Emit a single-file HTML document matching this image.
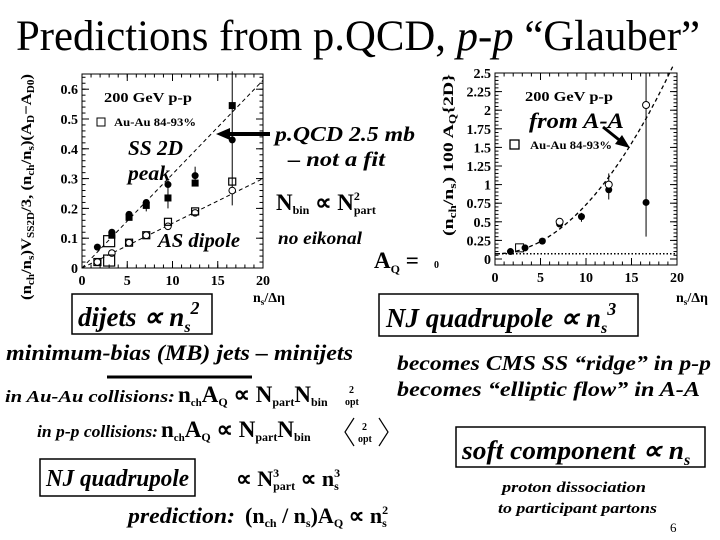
<!DOCTYPE html>
<html><head><meta charset="utf-8"><style>
html,body{margin:0;padding:0;background:#fff}
svg{display:block;font-family:"Liberation Serif",serif}
.bi{font-weight:bold;font-style:italic}
.b{font-weight:bold}
.tk{font-weight:bold;font-size:14px}
</style></head><body>
<svg id="s" width="720" height="540" viewBox="0 0 720 540">
<text x="16" y="50" font-size="43" textLength="684" lengthAdjust="spacingAndGlyphs">Predictions from p.QCD, <tspan font-style="italic">p-p</tspan> “Glauber”</text>

<g id="left"></g>
<g id="right"></g>

<!-- left chart labels -->
<text transform="translate(31,300) rotate(-90)" class="b" font-size="15" textLength="226" lengthAdjust="spacingAndGlyphs">(n<tspan font-size="10" dy="3">ch</tspan><tspan dy="-3">/n</tspan><tspan font-size="10" dy="3">s</tspan><tspan dy="-3">)V</tspan><tspan font-size="10" dy="3">SS2D</tspan><tspan dy="-3">/3, (n</tspan><tspan font-size="10" dy="3">ch</tspan><tspan dy="-3">/n</tspan><tspan font-size="10" dy="3">s</tspan><tspan dy="-3">)(A</tspan><tspan font-size="10" dy="3">D</tspan><tspan dy="-3">−A</tspan><tspan font-size="10" dy="3">D0</tspan><tspan dy="-3">)</tspan></text>
<text x="253" y="302" class="b" font-size="14">n<tspan font-size="9" dy="3">s</tspan><tspan dy="-3">/Δη</tspan></text>
<text x="104" y="102" class="b" font-size="14" textLength="88" lengthAdjust="spacingAndGlyphs">200 GeV p-p</text>
<rect x="97" y="118" width="8" height="8" fill="none" stroke="#000"/>
<text x="114" y="126" class="b" font-size="12" textLength="82" lengthAdjust="spacingAndGlyphs">Au-Au 84-93%</text>
<text x="128" y="155" class="bi" font-size="21" textLength="55" lengthAdjust="spacingAndGlyphs">SS 2D</text>
<text x="128" y="180" class="bi" font-size="21" textLength="42" lengthAdjust="spacingAndGlyphs">peak</text>
<text x="158" y="247" class="bi" font-size="20" textLength="82" lengthAdjust="spacingAndGlyphs">AS dipole</text>
<line x1="270" y1="134" x2="225" y2="134" stroke="#000" stroke-width="4"/>
<polygon points="216,134 230,128 230,140" fill="#000"/>
<text x="275" y="141" class="bi" font-size="21" textLength="140" lengthAdjust="spacingAndGlyphs">p.QCD 2.5 mb</text>
<text x="288" y="166" class="bi" font-size="21" textLength="97" lengthAdjust="spacingAndGlyphs">– not a fit</text>
<text x="276" y="210" class="b" font-size="23">N<tspan font-size="12" dy="4">bin</tspan><tspan dy="-4"> ∝ N</tspan><tspan font-size="12" dy="-10">2</tspan><tspan font-size="12" dx="-6" dy="14">part</tspan></text>
<text x="278" y="244" class="bi" font-size="18" textLength="84" lengthAdjust="spacingAndGlyphs">no eikonal</text>
<text x="374" y="268" class="b" font-size="23">A<tspan font-size="12" dy="5">Q</tspan><tspan dy="-5"> =</tspan></text>
<text x="434" y="268" class="b" font-size="10">0</text>

<!-- right chart labels -->
<text transform="translate(453,236) rotate(-90)" class="b" font-size="15" textLength="162" lengthAdjust="spacingAndGlyphs">(n<tspan font-size="10" dy="3">ch</tspan><tspan dy="-3">/n</tspan><tspan font-size="10" dy="3">s</tspan><tspan dy="-3">) 100 A</tspan><tspan font-size="10" dy="3">Q</tspan><tspan dy="-3">{2D}</tspan></text>
<text x="676" y="302" class="b" font-size="14">n<tspan font-size="9" dy="3">s</tspan><tspan dy="-3">/Δη</tspan></text>
<text x="525" y="101" class="b" font-size="14" textLength="88" lengthAdjust="spacingAndGlyphs">200 GeV p-p</text>
<rect x="510" y="140" width="9" height="9" fill="none" stroke="#000" stroke-width="1.3"/>
<text x="530" y="149" class="b" font-size="12" textLength="82" lengthAdjust="spacingAndGlyphs">Au-Au 84-93%</text>
<text x="529" y="128" class="bi" font-size="22" textLength="95" lengthAdjust="spacingAndGlyphs">from A-A</text>
<line x1="603" y1="127" x2="623" y2="143" stroke="#000" stroke-width="3"/>
<polygon points="630,148 615,144 622,135" fill="#000"/>

<!-- boxes and text -->
<rect x="72" y="294" width="140" height="40" fill="none" stroke="#000" stroke-width="1.5"/>
<text x="78" y="326" class="bi" font-size="27">dijets ∝ n<tspan font-size="16" dy="6">s</tspan><tspan font-size="18" dy="-18">2</tspan></text>
<rect x="379" y="294" width="259" height="42" fill="none" stroke="#000" stroke-width="1.5"/>
<text x="386" y="327" class="bi" font-size="27"><tspan textLength="215" lengthAdjust="spacingAndGlyphs">NJ quadrupole ∝ n</tspan><tspan font-size="16" dy="6">s</tspan><tspan font-size="18" dy="-18">3</tspan></text>
<text x="6" y="360" class="bi" font-size="22" textLength="347" lengthAdjust="spacingAndGlyphs">minimum-bias (MB) jets – minijets</text>
<line x1="107" y1="377" x2="252" y2="377" stroke="#000" stroke-width="3"/>
<text x="397" y="370" class="bi" font-size="21" textLength="314" lengthAdjust="spacingAndGlyphs">becomes CMS SS “ridge” in p-p</text>
<text x="397" y="396" class="bi" font-size="21" textLength="303" lengthAdjust="spacingAndGlyphs">becomes “elliptic flow” in A-A</text>

<text x="5" y="402" class="bi" font-size="17" textLength="170" lengthAdjust="spacingAndGlyphs">in Au-Au collisions:</text>
<text x="178" y="402" class="b" font-size="23">n<tspan font-size="11" dy="4">ch</tspan><tspan dy="-4">A</tspan><tspan font-size="12" dy="4">Q</tspan><tspan dy="-4"> ∝ N</tspan><tspan font-size="12" dy="4">part</tspan><tspan dy="-4">N</tspan><tspan font-size="12" dy="4">bin</tspan></text>
<text x="349" y="393" class="b" font-size="10">2</text><text x="345" y="405" class="b" font-size="10">opt</text>

<text x="37" y="437" class="bi" font-size="17" textLength="121" lengthAdjust="spacingAndGlyphs">in p-p collisions:</text>
<text x="161" y="437" class="b" font-size="23">n<tspan font-size="11" dy="4">ch</tspan><tspan dy="-4">A</tspan><tspan font-size="12" dy="4">Q</tspan><tspan dy="-4"> ∝ N</tspan><tspan font-size="12" dy="4">part</tspan><tspan dy="-4">N</tspan><tspan font-size="12" dy="4">bin</tspan></text>
<polyline points="354,418 345,432 354,446" fill="none" stroke="#000" stroke-width="1.2"/>
<text x="362" y="430" class="b" font-size="10">2</text><text x="358" y="442" class="b" font-size="10">opt</text>
<polyline points="379,418 388,432 379,446" fill="none" stroke="#000" stroke-width="1.2"/>

<rect x="456" y="427" width="249" height="40" fill="none" stroke="#000" stroke-width="1.5"/>
<text x="462" y="459" class="bi" font-size="26"><tspan textLength="222" lengthAdjust="spacingAndGlyphs">soft component ∝ n</tspan><tspan font-size="16" dy="6">s</tspan></text>
<rect x="40" y="459" width="155" height="37" fill="none" stroke="#000" stroke-width="1.5"/>
<text x="46" y="486" class="bi" font-size="24" textLength="143" lengthAdjust="spacingAndGlyphs">NJ quadrupole</text>
<text x="236" y="486" class="b" font-size="22">∝ N<tspan font-size="12" dy="-9">3</tspan><tspan font-size="12" dx="-6" dy="13">part</tspan><tspan dy="-4"> ∝ n</tspan><tspan font-size="12" dy="-9">3</tspan><tspan font-size="12" dx="-6" dy="13">s</tspan></text>
<text x="128" y="523" class="bi" font-size="22" textLength="107" lengthAdjust="spacingAndGlyphs">prediction:</text>
<text x="245" y="523" class="b" font-size="22">(n<tspan font-size="12" dy="4">ch</tspan><tspan dy="-4"> / n</tspan><tspan font-size="12" dy="4">s</tspan><tspan dy="-4">)A</tspan><tspan font-size="12" dy="4">Q</tspan><tspan dy="-4"> ∝ n</tspan><tspan font-size="12" dy="-9">2</tspan><tspan font-size="12" dx="-6" dy="13">s</tspan></text>
<text x="502" y="492" class="bi" font-size="15" textLength="144" lengthAdjust="spacingAndGlyphs">proton dissociation</text>
<text x="498" y="513" class="bi" font-size="15" textLength="159" lengthAdjust="spacingAndGlyphs">to participant partons</text>
<text x="670" y="532" font-size="13">6</text>
</svg>
<script>
// Left chart data
const lXTicks=[0,5,10,15,20];
const lYTicks=[0,0.1,0.2,0.3,0.4,0.5,0.6];
const ssX=[1.7,3.3,5.2,7.1,9.5,12.5,16.6];
const ssPP=[0.07,0.12,0.18,0.22,0.28,0.31,0.43];
const ssSqX=[3.3,5.2,7.1,9.5,12.5,16.6];
const ssAA=[0.11,0.17,0.21,0.235,0.285,0.545];
const asX=[1.7,3.3,5.2,7.1,9.5,12.5,16.6];
const asPP=[0.02,0.05,0.085,0.11,0.14,0.185,0.26];
const asSqX=[1.7,3.0,3.0,5.2,7.1,9.5,12.5,16.6];
const asAA=[0.02,0.09,0.025,0.085,0.11,0.155,0.19,0.29];
const ssSlope=[0.0315];
const asSlope=[0.015];
// Right chart data
const rXTicks=[0,5,10,15,20];
const rYTicks=[0,0.25,0.5,0.75,1,1.25,1.5,1.75,2,2.25,2.5];
const qX=[1.7,3.3,5.2,7.1,9.5,12.5,16.6];
const qPP=[0.1,0.15,0.24,0.47,0.57,0.93,0.76];
const qOpenX=[7.1,12.5,16.6];
const qOpen=[0.5,1.0,2.07];
const qSqX=[2.7];
const qSq=[0.15];
const qFit=[0.0066,0.07];
const NS='http://www.w3.org/2000/svg';
function mk(p,t,a){const e=document.createElementNS(NS,t);for(const k in a)e.setAttribute(k,a[k]);p.appendChild(e);return e;}
function axes(g,x0,x1,y0,y1,xs,ys,xT,yT,fmt,minorY){
  const r=mk(g,'rect',{x:x0,y:y1,width:x1-x0,height:y0-y1,fill:'none',stroke:'#000','stroke-width':1});
  
  
  xT.forEach(v=>{const X=xs(v);mk(g,'line',{x1:X,x2:X,y1:y0,y2:y0-7,stroke:'#000'});mk(g,'line',{x1:X,x2:X,y1:y1,y2:y1+7,stroke:'#000'});
    const t=mk(g,'text',{x:X,y:y0+17,'text-anchor':'middle',class:'tk'});t.textContent=v;
    
    });
  for(let v=0;v<=20;v+=1){const X=xs(v);mk(g,'line',{x1:X,x2:X,y1:y0,y2:y0-3.5,stroke:'#000'});mk(g,'line',{x1:X,x2:X,y1:y1,y2:y1+3.5,stroke:'#000'});}
  yT.forEach(v=>{const Y=ys(v);mk(g,'line',{x1:x0,x2:x0+7,y1:Y,y2:Y,stroke:'#000'});mk(g,'line',{x1:x1,x2:x1-7,y1:Y,y2:Y,stroke:'#000'});
    const t=mk(g,'text',{x:x0-4,y:Y+5,'text-anchor':'end',class:'tk'});t.textContent=fmt(v);
    
    });
  for(let i=0;i<minorY.length;i++){const Y=ys(minorY[i]);mk(g,'line',{x1:x0,x2:x0+3.5,y1:Y,y2:Y,stroke:'#000'});mk(g,'line',{x1:x1,x2:x1-3.5,y1:Y,y2:Y,stroke:'#000'});}
}
// left
const L=document.getElementById('left');
const lx=v=>82+v*(263-82)/20, ly=v=>268-v*298;
const lminor=[];for(let v=0;v<0.65;v+=0.02)lminor.push(v);
axes(L,82,263,268,74,lx,ly,lXTicks,lYTicks,v=>v===0?'0':v.toFixed(1),lminor);
let e=mk(L,'line',{x1:lx(0),y1:ly(0),x2:lx(20),y2:ly(ssSlope[0]*20),stroke:'#000','stroke-dasharray':'4,3'});


e=mk(L,'line',{x1:lx(0),y1:ly(0),x2:lx(20),y2:ly(asSlope[0]*20),stroke:'#000','stroke-dasharray':'4,3'});


[[12.5,0.28,0.34],[9.5,0.2,0.3],[16.6,0.21,0.66],[7.1,0.19,0.23]].forEach(b=>mk(L,'line',{x1:lx(b[0]),x2:lx(b[0]),y1:ly(b[1]),y2:ly(b[2]),stroke:'#000'}));
ssX.forEach((x,i)=>{const c=mk(L,'circle',{cx:lx(x),cy:ly(ssPP[i]),r:3.5,fill:'#000'});
  
  });
ssSqX.forEach((x,i)=>{const c=mk(L,'rect',{x:lx(x)-3.5,y:ly(ssAA[i])-3.5,width:7,height:7,fill:'#000'});
  
  });
asX.forEach((x,i)=>{const c=mk(L,'circle',{cx:lx(x),cy:ly(asPP[i]),r:3.3,fill:'#fff',stroke:'#000'});
  
  });
asSqX.forEach((x,i)=>{const s=(i===1||i===2)?11:7;const c=mk(L,'rect',{x:lx(x)-s/2,y:ly(asAA[i])-s/2,width:s,height:s,fill:'none',stroke:'#000','stroke-width':1.2});
  
  });
// right
const R=document.getElementById('right');
const rx=v=>495+v*(677-495)/20, ry=v=>259-v*74.4;
const rminor=[];for(let v=0;v<=2.5;v+=0.05)rminor.push(v);
axes(R,495,677,265,73,rx,ry,rXTicks,rYTicks,v=>String(v),rminor);
e=mk(R,'line',{x1:rx(0),x2:rx(20),y1:ry(qFit[1]),y2:ry(qFit[1]),stroke:'#000','stroke-dasharray':'1.5,2','stroke-width':1.5});


let d='';for(let x=0;x<=19.6;x+=0.2){const y=qFit[0]*x*x+qFit[1];d+=(x===0?'M':'L')+rx(x).toFixed(1)+','+ry(y).toFixed(1);}
e=mk(R,'path',{d:d,fill:'none',stroke:'#000','stroke-dasharray':'4,3','stroke-width':1.3});


[[16.6,0.3,2.5],[12.5,0.8,1.15],[9.5,0.5,0.62]].forEach(b=>mk(R,'line',{x1:rx(b[0]),x2:rx(b[0]),y1:ry(b[1]),y2:ry(b[2]),stroke:'#000'}));
qX.forEach((x,i)=>{const c=mk(R,'circle',{cx:rx(x),cy:ry(qPP[i]),r:3.5,fill:'#000'});
  
  });
qOpenX.forEach((x,i)=>{const c=mk(R,'circle',{cx:rx(x),cy:ry(qOpen[i]),r:3.5,fill:'#fff',stroke:'#000'});
  
  });
qSqX.forEach((x,i)=>{const c=mk(R,'rect',{x:rx(x)-4,y:ry(qSq[i])-4,width:8,height:8,fill:'none',stroke:'#000'});
  
  });
</script>
</body></html>
